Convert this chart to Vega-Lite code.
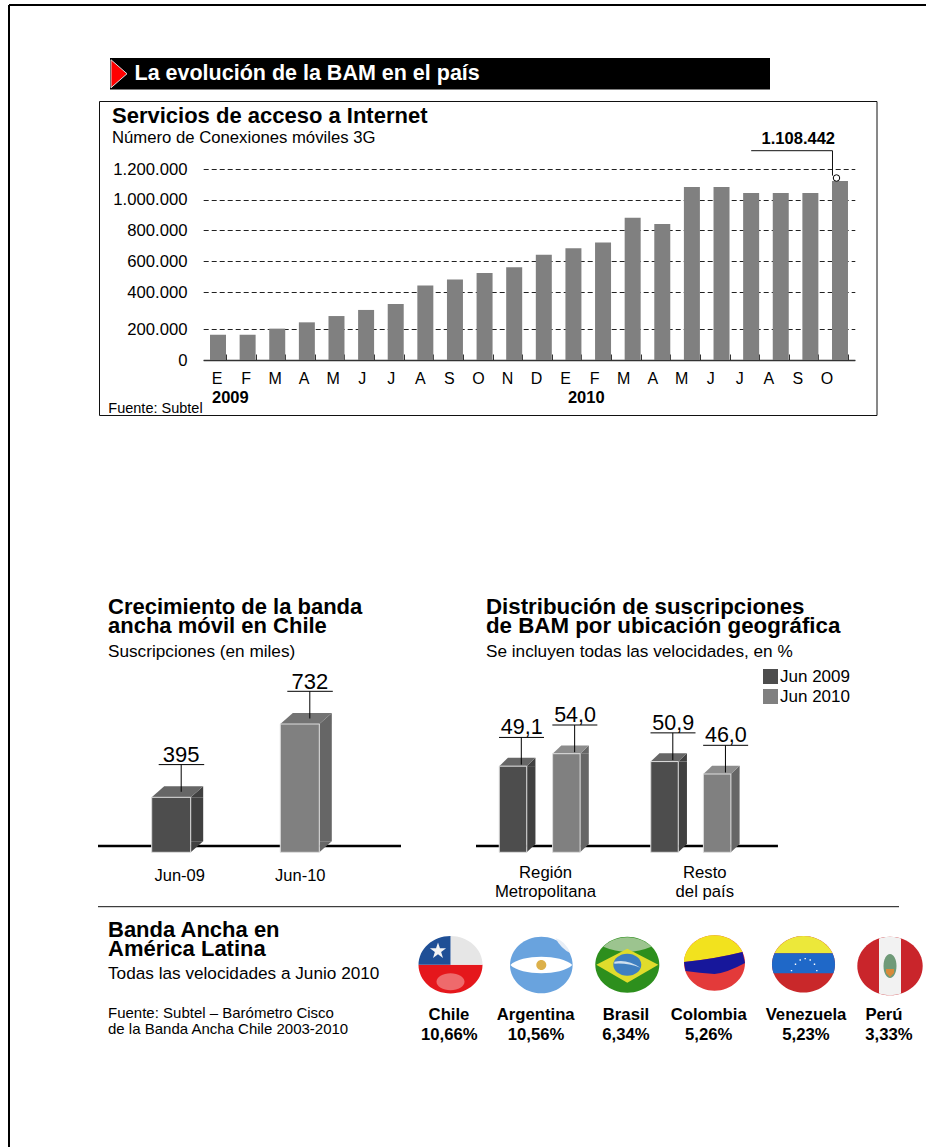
{
  "$schema": "https://vega.github.io/schema/vega-lite/v6.json",
  "width": 926,
  "height": 1147,
  "padding": 0,
  "autosize": {"type": "none"},
  "background": "white",
  "config": {
    "font": "Liberation Sans",
    "view": {"stroke": null},
    "legend": {"disable": true}
  },
  "datasets": {
    "ancla": [{"ancla": 1}],
    "conexiones": [
      {"periodo": "2009-01", "mes": "E", "conexiones": 163000},
      {"periodo": "2009-02", "mes": "F", "conexiones": 163000},
      {"periodo": "2009-03", "mes": "M", "conexiones": 202000},
      {"periodo": "2009-04", "mes": "A", "conexiones": 236000},
      {"periodo": "2009-05", "mes": "M", "conexiones": 270000},
      {"periodo": "2009-06", "mes": "J", "conexiones": 303000},
      {"periodo": "2009-07", "mes": "J", "conexiones": 335000},
      {"periodo": "2009-08", "mes": "A", "conexiones": 443000},
      {"periodo": "2009-09", "mes": "S", "conexiones": 482000},
      {"periodo": "2009-10", "mes": "O", "conexiones": 523000},
      {"periodo": "2009-11", "mes": "N", "conexiones": 561000},
      {"periodo": "2009-12", "mes": "D", "conexiones": 643000},
      {"periodo": "2010-01", "mes": "E", "conexiones": 684000},
      {"periodo": "2010-02", "mes": "F", "conexiones": 722000},
      {"periodo": "2010-03", "mes": "M", "conexiones": 882000},
      {"periodo": "2010-04", "mes": "A", "conexiones": 841000},
      {"periodo": "2010-05", "mes": "M", "conexiones": 1074000},
      {"periodo": "2010-06", "mes": "J", "conexiones": 1074000},
      {"periodo": "2010-07", "mes": "J", "conexiones": 1039000},
      {"periodo": "2010-08", "mes": "A", "conexiones": 1039000},
      {"periodo": "2010-09", "mes": "S", "conexiones": 1039000},
      {"periodo": "2010-10", "mes": "O", "conexiones": 1108442, "rotulo": "1.108.442"}
    ],
    "chile": [
      {"orden": 1, "periodo": "Jun-09", "miles": 395},
      {"orden": 2, "periodo": "Jun-10", "miles": 732}
    ],
    "ubicacion": [
      {"orden": 1, "grupo": "Región Metropolitana", "periodo": "Jun 2009", "pct": 49.1, "rotulo": "49,1"},
      {"orden": 2, "grupo": "Región Metropolitana", "periodo": "Jun 2010", "pct": 54.0, "rotulo": "54,0"},
      {"orden": 3, "grupo": "Resto del país", "periodo": "Jun 2009", "pct": 50.9, "rotulo": "50,9"},
      {"orden": 4, "grupo": "Resto del país", "periodo": "Jun 2010", "pct": 46.0, "rotulo": "46,0"}
    ],
    "grupos": [
      {"orden": 1, "grupo": "Región\nMetropolitana"},
      {"orden": 2, "grupo": "Resto\ndel país"}
    ],
    "paises": [
      {"orden": 1, "pais": "Chile", "penetracion": "10,66%"},
      {"orden": 2, "pais": "Argentina", "penetracion": "10,56%"},
      {"orden": 3, "pais": "Brasil", "penetracion": "6,34%"},
      {"orden": 4, "pais": "Colombia", "penetracion": "5,26%"},
      {"orden": 5, "pais": "Venezuela", "penetracion": "5,23%"},
      {"orden": 6, "pais": "Perú", "penetracion": "3,33%"}
    ],
    "banderas": [
      {"orden": 1, "pieza": "cl_rojo"},
      {"orden": 1, "pieza": "cl_blanco"},
      {"orden": 1, "pieza": "cl_azul"},
      {"orden": 1, "pieza": "cl_estrella"},
      {"orden": 1, "pieza": "cl_brillo"},
      {"orden": 2, "pieza": "ar_celeste"},
      {"orden": 2, "pieza": "ar_blanco"},
      {"orden": 2, "pieza": "ar_sol"},
      {"orden": 2, "pieza": "ar_brillo"},
      {"orden": 3, "pieza": "br_verde"},
      {"orden": 3, "pieza": "br_claro"},
      {"orden": 3, "pieza": "br_amarillo"},
      {"orden": 3, "pieza": "br_azul"},
      {"orden": 3, "pieza": "br_franja"},
      {"orden": 4, "pieza": "co_rojo"},
      {"orden": 4, "pieza": "co_amarillo"},
      {"orden": 4, "pieza": "co_azul"},
      {"orden": 5, "pieza": "ve_rojo"},
      {"orden": 5, "pieza": "ve_amarillo"},
      {"orden": 5, "pieza": "ve_azul"},
      {"orden": 5, "pieza": "ve_estrellas"},
      {"orden": 6, "pieza": "pe_rojo"},
      {"orden": 6, "pieza": "pe_blanco"},
      {"orden": 6, "pieza": "pe_laurel"},
      {"orden": 6, "pieza": "pe_escudo"}
    ]
  },
  "resolve": {"scale": {"x": "independent", "y": "independent", "color": "independent", "shape": "independent"}},
  "layer": [
    {
      "data": {"name": "ancla"},
      "layer": [
        {
          "mark": {"type": "rule", "color": "black", "strokeWidth": 2},
          "encoding": {
            "x": {"datum": 0, "axis": null, "scale": {"domain": [0, 1], "range": [9, 926]}},
            "x2": {"datum": 1},
            "y": {"datum": 0, "axis": null, "scale": {"domain": [0, 1], "range": [5, 1147]}}
          }
        },
        {
          "mark": {"type": "rule", "color": "black", "strokeWidth": 2},
          "encoding": {
            "x": {"datum": 0, "axis": null},
            "y": {"datum": 0, "axis": null},
            "y2": {"datum": 1}
          }
        }
      ]
    },
    {
      "data": {"name": "ancla"},
      "layer": [
        {
          "mark": {"type": "rect", "color": "black"},
          "encoding": {
            "x": {"datum": 0, "axis": null, "scale": {"domain": [0, 1], "range": [110, 770]}},
            "x2": {"datum": 1},
            "y": {"datum": 0, "axis": null, "scale": {"domain": [0, 1], "range": [58, 89.5]}},
            "y2": {"datum": 1}
          }
        },
        {
          "mark": {"type": "point", "shape": "M1 -14L17 0L1 14Z", "size": 4, "filled": true, "opacity": 1, "color": "#ff0000", "stroke": "#e0e0e0", "strokeWidth": 1},
          "encoding": {"x": {"datum": 0, "axis": null}, "y": {"datum": 0.5, "axis": null}}
        },
        {
          "mark": {"type": "text", "text": "La evolución de la BAM en el país", "align": "left", "baseline": "alphabetic", "color": "white", "fontWeight": "bold", "fontSize": 21.5, "dx": 24.5, "dy": 6.5},
          "encoding": {"x": {"datum": 0, "axis": null}, "y": {"datum": 0.5, "axis": null}}
        }
      ]
    },
    {
      "data": {"name": "ancla"},
      "mark": {"type": "rect", "filled": false, "stroke": "#111111", "strokeWidth": 1},
      "encoding": {
        "x": {"datum": 0, "axis": null, "scale": {"domain": [0, 1], "range": [99.5, 877]}},
        "x2": {"datum": 1},
        "y": {"datum": 0, "axis": null, "scale": {"domain": [0, 1], "range": [101.5, 415.5]}},
        "y2": {"datum": 1}
      }
    },
    {
      "data": {"name": "conexiones"},
      "mark": {"type": "bar", "color": "#808080"},
      "encoding": {
        "x": {
          "field": "periodo",
          "type": "nominal",
          "sort": null,
          "scale": {"type": "band", "range": [203.2, 854.8], "paddingInner": 0.46, "paddingOuter": 0.23},
          "axis": {"orient": "top", "offset": -360, "labels": false, "title": null, "grid": false, "ticks": true, "domainColor": "#333333", "domainWidth": 1.5, "tickColor": "#333333", "tickWidth": 1, "tickSize": 6, "tickBand": "extent"}
        },
        "y": {
          "field": "conexiones",
          "type": "quantitative",
          "scale": {
            "domain": [0, 200000, 400000, 600000, 800000, 1000000, 1108442, 1200000],
            "range": [360, 329, 292, 261.3, 230.3, 199.7, 181, 169],
            "nice": false,
            "padding": 0
          },
          "axis": {
            "orient": "left",
            "offset": -203,
            "values": [0, 200000, 400000, 600000, 800000, 1000000, 1200000],
            "title": null,
            "domain": false,
            "ticks": false,
            "grid": true,
            "gridColor": "#222222",
            "gridDash": [5, 3],
            "gridWidth": 1,
            "labelPadding": 16,
            "labelFontSize": 16.7,
            "labelColor": "black",
            "labelExpr": "replace(format(datum.value, ','), /,/g, '.')"
          }
        }
      }
    },
    {
      "layer": [
        {
          "data": {"name": "conexiones"},
          "transform": [{"filter": "isValid(datum.rotulo)"}],
          "mark": {"type": "point", "shape": "M-88.8 -30.3H-7.5V-5.4", "size": 4, "filled": false, "opacity": 1, "color": "#111111", "strokeWidth": 1},
          "encoding": {
            "x": {"field": "periodo", "type": "nominal", "axis": null, "scale": {"type": "band", "domain": ["2009-01", "2009-02", "2009-03", "2009-04", "2009-05", "2009-06", "2009-07", "2009-08", "2009-09", "2009-10", "2009-11", "2009-12", "2010-01", "2010-02", "2010-03", "2010-04", "2010-05", "2010-06", "2010-07", "2010-08", "2010-09", "2010-10"], "range": [203.2, 854.8], "paddingInner": 0.46, "paddingOuter": 0.23}},
            "y": {"field": "conexiones", "type": "quantitative", "axis": null, "scale": {
              "domain": [0, 200000, 400000, 600000, 800000, 1000000, 1108442, 1200000],
              "range": [360, 329, 292, 261.3, 230.3, 199.7, 181, 169],
              "nice": false,
              "padding": 0
            }}
          }
        },
        {
          "data": {"name": "conexiones"},
          "transform": [{"filter": "isValid(datum.rotulo)"}],
          "mark": {"type": "point", "shape": "circle", "size": 42, "filled": true, "opacity": 1, "fill": "white", "stroke": "black", "strokeWidth": 1, "xOffset": -3.5, "yOffset": -3},
          "encoding": {"x": {"field": "periodo", "type": "nominal", "axis": null}, "y": {"field": "conexiones", "type": "quantitative", "axis": null}}
        },
        {
          "data": {"name": "conexiones"},
          "transform": [{"filter": "isValid(datum.rotulo)"}],
          "mark": {"type": "text", "align": "center", "baseline": "alphabetic", "fontWeight": "bold", "fontSize": 16.5, "color": "black", "dx": -41.7, "dy": -37},
          "encoding": {
            "x": {"field": "periodo", "type": "nominal", "axis": null},
            "y": {"field": "conexiones", "type": "quantitative", "axis": null},
            "text": {"field": "rotulo"}
          }
        },
        {
          "data": {"name": "ancla"},
          "mark": {"type": "text", "text": "Servicios de acceso a Internet", "align": "left", "baseline": "alphabetic", "fontWeight": "bold", "fontSize": 22, "color": "black", "dx": -106, "dy": -237.3},
          "encoding": {"x": {"datum": "2009-01", "axis": null}, "y": {"datum": 0, "axis": null}}
        },
        {
          "data": {"name": "ancla"},
          "mark": {"type": "text", "text": "Número de Conexiones móviles 3G", "align": "left", "baseline": "alphabetic", "fontSize": 16.7, "color": "black", "dx": -106, "dy": -217},
          "encoding": {"x": {"datum": "2009-01", "axis": null}, "y": {"datum": 0, "axis": null}}
        },
        {
          "data": {"name": "ancla"},
          "mark": {"type": "text", "text": "Fuente: Subtel", "align": "left", "baseline": "alphabetic", "fontSize": 14.5, "color": "black", "dx": -109.7, "dy": 52.7},
          "encoding": {"x": {"datum": "2009-01", "axis": null}, "y": {"datum": 0, "axis": null}}
        },
        {
          "data": {"name": "ancla"},
          "mark": {"type": "text", "text": "2009", "align": "left", "baseline": "alphabetic", "fontWeight": "bold", "fontSize": 16.5, "color": "black", "dx": -6, "dy": 42.7},
          "encoding": {"x": {"datum": "2009-01", "axis": null}, "y": {"datum": 0, "axis": null}}
        },
        {
          "data": {"name": "ancla"},
          "mark": {"type": "text", "text": "2010", "align": "left", "baseline": "alphabetic", "fontWeight": "bold", "fontSize": 16.5, "color": "black", "dx": -5.5, "dy": 42.7},
          "encoding": {"x": {"datum": "2010-01", "axis": null}, "y": {"datum": 0, "axis": null}}
        }
      ]
    },
    {
      "data": {"name": "conexiones"},
      "mark": {"type": "text", "align": "center", "baseline": "middle", "fontSize": 16, "color": "black"},
      "encoding": {
        "x": {"field": "periodo", "type": "nominal", "sort": null, "axis": null, "scale": {"type": "point", "padding": 0, "range": [217, 827]}},
        "y": {"datum": 0, "axis": null, "scale": {"domain": [0, 1], "range": [379, 379]}},
        "text": {"field": "mes"}
      }
    },
    {
      "resolve": {"scale": {"color": "independent"}},
      "layer": [
        {
          "data": {"name": "ancla"},
          "mark": {"type": "rule", "color": "black", "strokeWidth": 2.5, "xOffset": -73.2, "x2Offset": 101.2, "yOffset": -6.3},
          "encoding": {
            "x": {"datum": 1, "axis": null, "scale": {"domain": [1, 2], "range": [171.2, 299.8], "nice": false, "padding": 0}},
            "x2": {"datum": 2},
            "y": {"datum": 0, "axis": null, "scale": {"domain": [0, 395, 732], "range": [852.3, 797.3, 724], "nice": false, "padding": 0}}
          }
        },
        {
          "data": {"name": "ancla"},
          "mark": {"type": "text", "text": "Crecimiento de la banda\nancha móvil en Chile", "lineBreak": "\n", "lineHeight": 18.5, "align": "left", "baseline": "alphabetic", "fontWeight": "bold", "fontSize": 22, "color": "black", "dx": -63.2, "dy": -238},
          "encoding": {"x": {"datum": 1, "axis": null}, "y": {"datum": 0, "axis": null}}
        },
        {
          "data": {"name": "ancla"},
          "mark": {"type": "text", "text": "Suscripciones (en miles)", "align": "left", "baseline": "alphabetic", "fontSize": 17.2, "color": "black", "dx": -63.2, "dy": -195.3},
          "encoding": {"x": {"datum": 1, "axis": null}, "y": {"datum": 0, "axis": null}}
        },
        {
          "data": {"name": "chile"},
          "resolve": {"scale": {"color": "independent"}},
          "encoding": {
            "x": {"field": "orden", "type": "quantitative", "axis": null},
            "y": {"field": "miles", "type": "quantitative", "axis": null}
          },
          "layer": [
            {
              "mark": {"type": "bar", "orient": "vertical", "width": 12.5, "xOffset": 25.75, "y2Offset": -11},
              "encoding": {
                "y2": {"datum": 0},
                "color": {"field": "periodo", "type": "nominal", "scale": {"domain": ["Jun-09", "Jun-10"], "range": ["#404040", "#666666"]}}
              }
            },
            {
              "mark": {"type": "point", "shape": "M19.5 0L32 -11V0Z", "size": 4, "filled": true, "opacity": 1},
              "encoding": {
                "color": {"field": "periodo", "type": "nominal", "scale": {"domain": ["Jun-09", "Jun-10"], "range": ["#404040", "#666666"]}}
              }
            },
            {
              "mark": {"type": "point", "shape": "M19.5 0L32 -11H19.5Z", "size": 4, "filled": true, "opacity": 1},
              "encoding": {
                "y": {"datum": 0, "axis": null},
                "color": {"field": "periodo", "type": "nominal", "scale": {"domain": ["Jun-09", "Jun-10"], "range": ["#404040", "#666666"]}}
              }
            },
            {
              "mark": {"type": "point", "shape": "M-19.5 0H19.5L32 -11H-7Z", "size": 4, "filled": true, "opacity": 1},
              "encoding": {
                "color": {"field": "periodo", "type": "nominal", "scale": {"domain": ["Jun-09", "Jun-10"], "range": ["#666666", "#737373"]}}
              }
            },
            {
              "mark": {"type": "bar", "orient": "vertical", "width": 39, "stroke": "#dddddd", "strokeWidth": 1},
              "encoding": {
                "y2": {"datum": 0},
                "color": {"field": "periodo", "type": "nominal", "scale": {"domain": ["Jun-09", "Jun-10"], "range": ["#4d4d4d", "#808080"]}}
              }
            },
            {
              "mark": {"type": "point", "shape": "M-12.5 -32.7H33M10 -32.7V-5.5", "size": 4, "filled": false, "opacity": 1, "color": "black", "strokeWidth": 1},
              "encoding": {}
            },
            {
              "mark": {"type": "text", "align": "center", "baseline": "alphabetic", "fontSize": 22, "color": "black", "dx": 10, "dy": -35},
              "encoding": {
                "text": {"field": "miles", "type": "quantitative"}
              }
            }
          ]
        }
      ]
    },
    {
      "data": {"name": "chile"},
      "mark": {"type": "text", "align": "center", "baseline": "middle", "fontSize": 16.5, "color": "black"},
      "encoding": {
        "x": {"field": "orden", "type": "quantitative", "axis": null, "scale": {"domain": [1, 2], "range": [179.7, 300.3]}},
        "y": {"datum": 0, "axis": null, "scale": {"domain": [0, 1], "range": [875.7, 875.7]}},
        "text": {"field": "periodo"}
      }
    },
    {
      "resolve": {"scale": {"color": "independent"}},
      "layer": [
        {
          "data": {"name": "ancla"},
          "mark": {"type": "rule", "color": "black", "strokeWidth": 2.5, "xOffset": -37, "x2Offset": 60.8, "yOffset": -6.3},
          "encoding": {
            "x": {"datum": 1, "axis": null, "scale": {"domain": [1, 2, 3, 4], "range": [513, 566.35, 664.5, 717.15], "nice": false, "padding": 0}},
            "x2": {"datum": 4},
            "y": {"datum": 0, "axis": null, "scale": {"domain": [0, 46, 54], "range": [852.3, 774, 753.7], "nice": false, "padding": 0}}
          }
        },
        {
          "data": {"name": "ancla"},
          "mark": {"type": "text", "text": "Distribución de suscripciones\nde BAM por ubicación geográfica", "lineBreak": "\n", "lineHeight": 18.5, "align": "left", "baseline": "alphabetic", "fontWeight": "bold", "fontSize": 22.3, "color": "black", "dx": -27, "dy": -238.3},
          "encoding": {"x": {"datum": 1, "axis": null}, "y": {"datum": 0, "axis": null}}
        },
        {
          "data": {"name": "ancla"},
          "mark": {"type": "text", "text": "Se incluyen todas las velocidades, en %", "align": "left", "baseline": "alphabetic", "fontSize": 17.2, "color": "black", "dx": -27, "dy": -195.3},
          "encoding": {"x": {"datum": 1, "axis": null}, "y": {"datum": 0, "axis": null}}
        },
        {
          "data": {"name": "ubicacion"},
          "resolve": {"scale": {"color": "independent"}},
          "encoding": {
            "x": {"field": "orden", "type": "quantitative", "axis": null},
            "y": {"field": "pct", "type": "quantitative", "axis": null, "stack": null}
          },
          "layer": [
            {
              "mark": {"type": "bar", "orient": "vertical", "width": 8.7, "xOffset": 18.1, "y2Offset": -8.3},
              "encoding": {
                "y2": {"datum": 0},
                "color": {"field": "periodo", "type": "nominal", "scale": {"domain": ["Jun 2009", "Jun 2010"], "range": ["#404040", "#666666"]}}
              }
            },
            {
              "mark": {"type": "point", "shape": "M13.75 0L22.45 -8.3V0Z", "size": 4, "filled": true, "opacity": 1},
              "encoding": {
                "color": {"field": "periodo", "type": "nominal", "scale": {"domain": ["Jun 2009", "Jun 2010"], "range": ["#404040", "#666666"]}}
              }
            },
            {
              "mark": {"type": "point", "shape": "M13.75 0L22.45 -8.3H13.75Z", "size": 4, "filled": true, "opacity": 1},
              "encoding": {
                "y": {"datum": 0, "axis": null},
                "color": {"field": "periodo", "type": "nominal", "scale": {"domain": ["Jun 2009", "Jun 2010"], "range": ["#404040", "#666666"]}}
              }
            },
            {
              "mark": {"type": "point", "shape": "M-13.75 0H13.75L22.45 -8.3H-5.05Z", "size": 4, "filled": true, "opacity": 1},
              "encoding": {
                "color": {"field": "periodo", "type": "nominal", "scale": {"domain": ["Jun 2009", "Jun 2010"], "range": ["#666666", "#8c8c8c"]}}
              }
            },
            {
              "mark": {"type": "bar", "orient": "vertical", "width": 27.5, "stroke": "#dddddd", "strokeWidth": 1},
              "encoding": {
                "y2": {"datum": 0},
                "color": {
                  "field": "periodo",
                  "type": "nominal",
                  "scale": {"domain": ["Jun 2009", "Jun 2010"], "range": ["#4d4d4d", "#808080"]},
                  "legend": {"orient": "none", "legendX": 762, "legendY": 668, "title": null, "symbolType": "square", "symbolSize": 225, "symbolStrokeWidth": 0, "symbolOpacity": 1, "labelFontSize": 17, "labelColor": "black", "labelOffset": 1, "rowPadding": 2}
                }
              }
            },
            {
              "mark": {"type": "point", "shape": "M-14 -28.7H31M8.3 -28.7V-1.5", "size": 4, "filled": false, "opacity": 1, "color": "black", "strokeWidth": 1},
              "encoding": {}
            },
            {
              "mark": {"type": "text", "align": "center", "baseline": "alphabetic", "fontSize": 21.5, "color": "black", "dx": 8.7, "dy": -32},
              "encoding": {
                "text": {"field": "rotulo"}
              }
            }
          ]
        }
      ]
    },
    {
      "data": {"name": "grupos"},
      "mark": {"type": "text", "lineBreak": "\n", "lineHeight": 19, "align": "center", "baseline": "alphabetic", "fontSize": 16.7, "color": "black"},
      "encoding": {
        "x": {"field": "orden", "type": "quantitative", "axis": null, "scale": {"domain": [1, 2], "range": [545.5, 704.8]}},
        "y": {"datum": 0, "axis": null, "scale": {"domain": [0, 1], "range": [878.3, 878.3]}},
        "text": {"field": "grupo"}
      }
    },
    {
      "data": {"name": "ancla"},
      "mark": {"type": "rule", "color": "#111111", "strokeWidth": 1},
      "encoding": {
        "x": {"datum": 0, "axis": null, "scale": {"domain": [0, 1], "range": [98, 899]}},
        "x2": {"datum": 1},
        "y": {"datum": 0, "axis": null, "scale": {"domain": [0, 1], "range": [906.7, 906.7]}}
      }
    },
    {
      "layer": [
        {
          "data": {"name": "banderas"},
          "mark": {"type": "point", "size": 4, "filled": true, "opacity": 1, "strokeWidth": 0},
          "encoding": {
            "x": {"field": "orden", "type": "quantitative", "axis": null, "scale": {"domain": [1, 2, 3, 4, 5, 6], "range": [450.5, 541.3, 627.3, 714.5, 803.5, 890]}},
            "y": {"field": "orden", "type": "quantitative", "axis": null, "scale": {"domain": [1, 2, 3, 4, 5, 6], "range": [964.7, 965, 964.7, 963, 964.3, 966]}},
            "color": {
              "field": "pieza",
              "type": "nominal",
              "sort": null,
              "scale": {
                "domain": ["cl_rojo", "cl_blanco", "cl_azul", "cl_estrella", "cl_brillo", "ar_celeste", "ar_blanco", "ar_sol", "ar_brillo", "br_verde", "br_claro", "br_amarillo", "br_azul", "br_franja", "co_rojo", "co_amarillo", "co_azul", "ve_rojo", "ve_amarillo", "ve_azul", "ve_estrellas", "pe_rojo", "pe_blanco", "pe_laurel", "pe_escudo"],
                "range": ["#e5171c", "#e6e6e6", "#1f4f96", "#f4f4f4", "#ee6a6c", "#69a3de", "#ffffff", "#dcb04a", "#e8eef6", "#2d8f1d", "#9cc48f", "#e0dc2c", "#3f7fc0", "#cfe0ee", "#e33a3a", "#f2e21e", "#17179b", "#c9282a", "#ece83a", "#1f68c8", "#ffffff", "#c9252b", "#f2f2f2", "#6f9a78", "#d98a3a"]
              }
            },
            "shape": {
              "field": "pieza",
              "type": "nominal",
              "sort": null,
              "scale": {
                "domain": ["cl_rojo", "cl_blanco", "cl_azul", "cl_estrella", "cl_brillo", "ar_celeste", "ar_blanco", "ar_sol", "ar_brillo", "br_verde", "br_claro", "br_amarillo", "br_azul", "br_franja", "co_rojo", "co_amarillo", "co_azul", "ve_rojo", "ve_amarillo", "ve_azul", "ve_estrellas", "pe_rojo", "pe_blanco", "pe_laurel", "pe_escudo"],
                "range": [
                  "M-32 0A32 28.7 0 0 0 32 0Z",
                  "M0 -28.7A32 28.7 0 0 1 32 0H0Z",
                  "M-32 0A32 28.7 0 0 1 0 -28.7V0Z",
                  "M-12.5 -22.2L-10.56 -16.37L-4.42 -16.33L-9.36 -12.68L-7.5 -6.82L-12.5 -10.4L-17.5 -6.82L-15.64 -12.68L-20.58 -16.33L-14.44 -16.37Z",
                  "M-14 17A14 8.5 0 1 1 14 17A14 8.5 0 1 1 -14 17Z",
                  "M-31.3 0A31.3 28.3 0 1 1 31.3 0A31.3 28.3 0 1 1 -31.3 0Z",
                  "M-31 0C-20 -11 20 -11 31 0C20 11 -20 11 -31 0Z",
                  "M-5 0A5 5 0 1 1 5 0A5 5 0 1 1 -5 0Z",
                  "M14 -27Q24 -24 29 -12Q20 -16 14 -27Z",
                  "M-32 0A32 28 0 1 1 32 0A32 28 0 1 1 -32 0Z",
                  "M-24 -18A32 28 0 0 1 24 -18Q0 -8 -24 -18Z",
                  "M-31 0L0 -16L31 0L0 18Z",
                  "M-14 0A14 11 0 1 1 14 0A14 11 0 1 1 -14 0Z",
                  "M-13 -3Q0 -6 13 3Q0 -2 -13 -1Z",
                  "M-30.5 0A30.5 27.7 0 1 1 30.5 0A30.5 27.7 0 1 1 -30.5 0Z",
                  "M-30.5 -1A30.5 27.7 0 0 1 28 -11Q0 -4 -30.5 -1Z",
                  "M-30.5 -1Q0 -4 28 -11L30.5 0Q12 10 0 11Q-15 10 -29 8Z",
                  "M-31.5 0A31.5 28.3 0 1 1 31.5 0A31.5 28.3 0 1 1 -31.5 0Z",
                  "M-29 -11A31.5 28.3 0 0 1 29 -11Z",
                  "M-29 -11H29A31.5 28.3 0 0 1 29.9 9H-29.9A31.5 28.3 0 0 1 -29 -11Z",
                  "M-12.7 5.6h1.4v1.4h-1.4zM-8.7 -.7h1.4v1.4h-1.4zM-4 -5h1.4v1.4h-1.4zM1 -6.4h1.4v1.4h-1.4zM6 -5h1.4v1.4h-1.4zM10.3 -.7h1.4v1.4h-1.4zM12.6 5.6h1.4v1.4h-1.4z",
                  "M-32.7 0A32.7 29.3 0 1 1 32.7 0A32.7 29.3 0 1 1 -32.7 0Z",
                  "M-11 -27.6A32.7 29.3 0 0 1 11 -27.6V27.6A32.7 29.3 0 0 1 -11 27.6Z",
                  "M-6.5 0A6.5 12 0 1 1 6.5 0A6.5 12 0 1 1 -6.5 0Z",
                  "M-4 3H4V7L0 11L-4 7Z"
                ]
              }
            }
          }
        },
        {
          "data": {"name": "ancla"},
          "mark": {"type": "text", "text": "Banda Ancha en\nAmérica Latina", "lineBreak": "\n", "lineHeight": 19.5, "align": "left", "baseline": "alphabetic", "fontWeight": "bold", "fontSize": 22, "color": "black", "dx": -342.5, "dy": -28},
          "encoding": {"x": {"datum": 1, "axis": null}, "y": {"datum": 1, "axis": null}}
        },
        {
          "data": {"name": "ancla"},
          "mark": {"type": "text", "text": "Todas las velocidades a Junio 2010", "align": "left", "baseline": "alphabetic", "fontSize": 17.2, "color": "black", "dx": -342.5, "dy": 14.3},
          "encoding": {"x": {"datum": 1, "axis": null}, "y": {"datum": 1, "axis": null}}
        },
        {
          "data": {"name": "ancla"},
          "mark": {"type": "text", "text": "Fuente: Subtel – Barómetro Cisco\nde la Banda Ancha Chile 2003-2010", "lineBreak": "\n", "lineHeight": 16.4, "align": "left", "baseline": "alphabetic", "fontSize": 15, "color": "black", "dx": -342.5, "dy": 53},
          "encoding": {"x": {"datum": 1, "axis": null}, "y": {"datum": 1, "axis": null}}
        }
      ]
    },
    {
      "data": {"name": "paises"},
      "mark": {"type": "text", "align": "center", "baseline": "alphabetic", "fontWeight": "bold", "fontSize": 16.7, "color": "black"},
      "encoding": {
        "x": {"field": "orden", "type": "quantitative", "axis": null, "scale": {"domain": [1, 2, 3, 4, 5, 6], "range": [449, 535.7, 626, 708.7, 806, 884]}},
        "y": {"datum": 0, "axis": null, "scale": {"domain": [0, 1], "range": [1020, 1020]}},
        "text": {"field": "pais"}
      }
    },
    {
      "data": {"name": "paises"},
      "mark": {"type": "text", "align": "center", "baseline": "alphabetic", "fontWeight": "bold", "fontSize": 16.7, "color": "black"},
      "encoding": {
        "x": {"field": "orden", "type": "quantitative", "axis": null, "scale": {"domain": [1, 2, 3, 4, 5, 6], "range": [449.3, 536, 626, 708.7, 806, 889]}},
        "y": {"datum": 0, "axis": null, "scale": {"domain": [0, 1], "range": [1039.5, 1039.5]}},
        "text": {"field": "penetracion"}
      }
    }
  ]
}
